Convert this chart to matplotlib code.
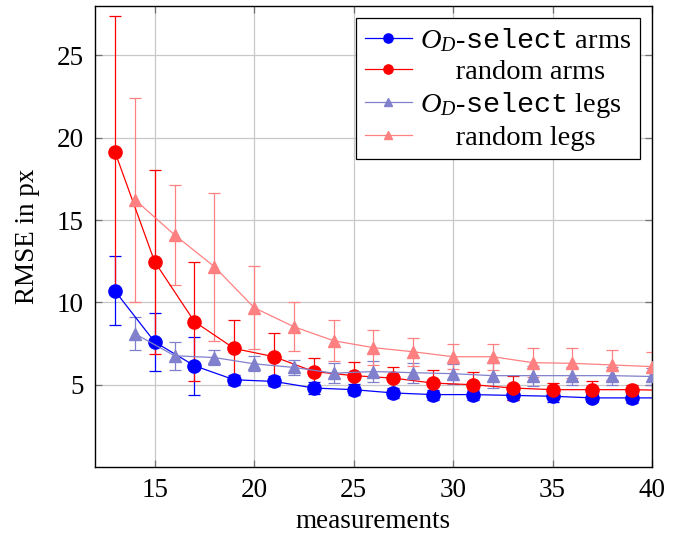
import matplotlib

matplotlib.use("Agg")
import matplotlib.pyplot as plt

# measurements (x) per series; the x=41 arm points sit just outside the axes
arms_x = [13, 15, 17, 19, 21, 23, 25, 27, 29, 31, 33, 35, 37, 39, 41]
legs_x = [14, 16, 18, 20, 22, 24, 26, 28, 30, 32, 34, 36, 38, 40]

od_arms = [10.7, 7.6, 6.15, 5.3, 5.2, 4.8, 4.7, 4.5, 4.4, 4.4, 4.35, 4.3, 4.2, 4.2, 4.2]
od_arms_err = [2.1, 1.75, 1.75, 0.3, 0.3, 0.35, 0.35, 0.3, 0.3, 0.3, 0.3, 0.35, 0.25, 0.3, 0.3]

rnd_arms = [19.15, 12.47, 8.83, 7.2, 6.7, 5.8, 5.55, 5.4, 5.1, 5.0, 4.8, 4.7, 4.7, 4.7, 4.65]
rnd_arms_err = [8.25, 5.6, 3.6, 1.75, 1.45, 0.8, 0.8, 0.7, 0.8, 0.8, 0.7, 0.4, 0.5, 0.3, 0.3]

od_legs = [8.1, 6.76, 6.65, 6.27, 6.05, 5.7, 5.8, 5.73, 5.67, 5.55, 5.55, 5.55, 5.55, 5.5]
od_legs_err = [1.0, 0.85, 0.45, 0.45, 0.45, 0.6, 0.65, 0.6, 0.6, 0.75, 0.6, 0.55, 0.55, 0.5]

rnd_legs = [16.24, 14.1, 12.17, 9.68, 8.52, 7.67, 7.25, 7.0, 6.7, 6.7, 6.34, 6.3, 6.2, 6.1]
rnd_legs_err = [6.2, 3.05, 4.5, 2.5, 1.5, 1.25, 1.05, 0.85, 0.75, 0.8, 0.9, 0.9, 0.9, 0.9]

x_ticks = [15, 20, 25, 30, 35, 40]
y_ticks = [5, 10, 15, 20, 25]

FS = 19.5

plt.rcParams["font.family"] = "Liberation Serif"
plt.rcParams["mathtext.fontset"] = "custom"
plt.rcParams["mathtext.rm"] = "Liberation Serif"
plt.rcParams["mathtext.it"] = "Liberation Serif:italic"
plt.rcParams["mathtext.tt"] = "Liberation Mono"

fig = plt.figure(figsize=(6.8, 5.35), dpi=100)
ax = fig.add_axes([0.1397, 0.127, 0.8191, 0.8618])

series = [
    (arms_x, od_arms, od_arms_err, "#0000ff", "o", 9.5, r"$O_D$-$\mathtt{select}$ arms"),
    (arms_x, rnd_arms, rnd_arms_err, "#ff0000", "o", 9.5, "     random arms"),
    (legs_x, od_legs, od_legs_err, "#8080cc", "^", 8, r"$O_D$-$\mathtt{select}$ legs"),
    (legs_x, rnd_legs, rnd_legs_err, "#ff8080", "^", 8, "     random legs"),
]

handles = []
for xs, ys, err, col, mk, ms, label in series:
    ax.errorbar(xs, ys, yerr=err, fmt="none", ecolor=col, elinewidth=0.9,
                capsize=4.5, capthick=0.9, zorder=2)
    (h,) = ax.plot(xs, ys, color=col, marker=mk, markersize=ms, linewidth=0.9,
                   label=label, zorder=3)
    handles.append(h)

ax.set_xlim(12, 40)
ax.set_ylim(0, 28)
ax.set_xticks(x_ticks)
ax.set_yticks(y_ticks)
ax.grid(True, color="#c8c8c8", linewidth=0.9)
ax.set_axisbelow(True)
ax.tick_params(direction="in", length=5, width=0.9, color="#707070",
               top=True, right=True, labelsize=FS, pad=8)
for sp in ax.spines.values():
    sp.set_linewidth(1.0)
    sp.set_color("black")

ax.set_xlabel("measurements", fontsize=FS, labelpad=4)
ax.set_ylabel("RMSE in px", fontsize=FS, labelpad=12)

leg = ax.legend(handles=handles, loc="upper right", fontsize=20.5, frameon=True,
                fancybox=False, edgecolor="black", framealpha=1,
                borderaxespad=0.42, handlelength=1.65, handletextpad=0.3,
                labelspacing=0.17, borderpad=0.3, markerscale=0.7)
leg.get_frame().set_linewidth(0.9)

fig.savefig("out.png", dpi=100)
